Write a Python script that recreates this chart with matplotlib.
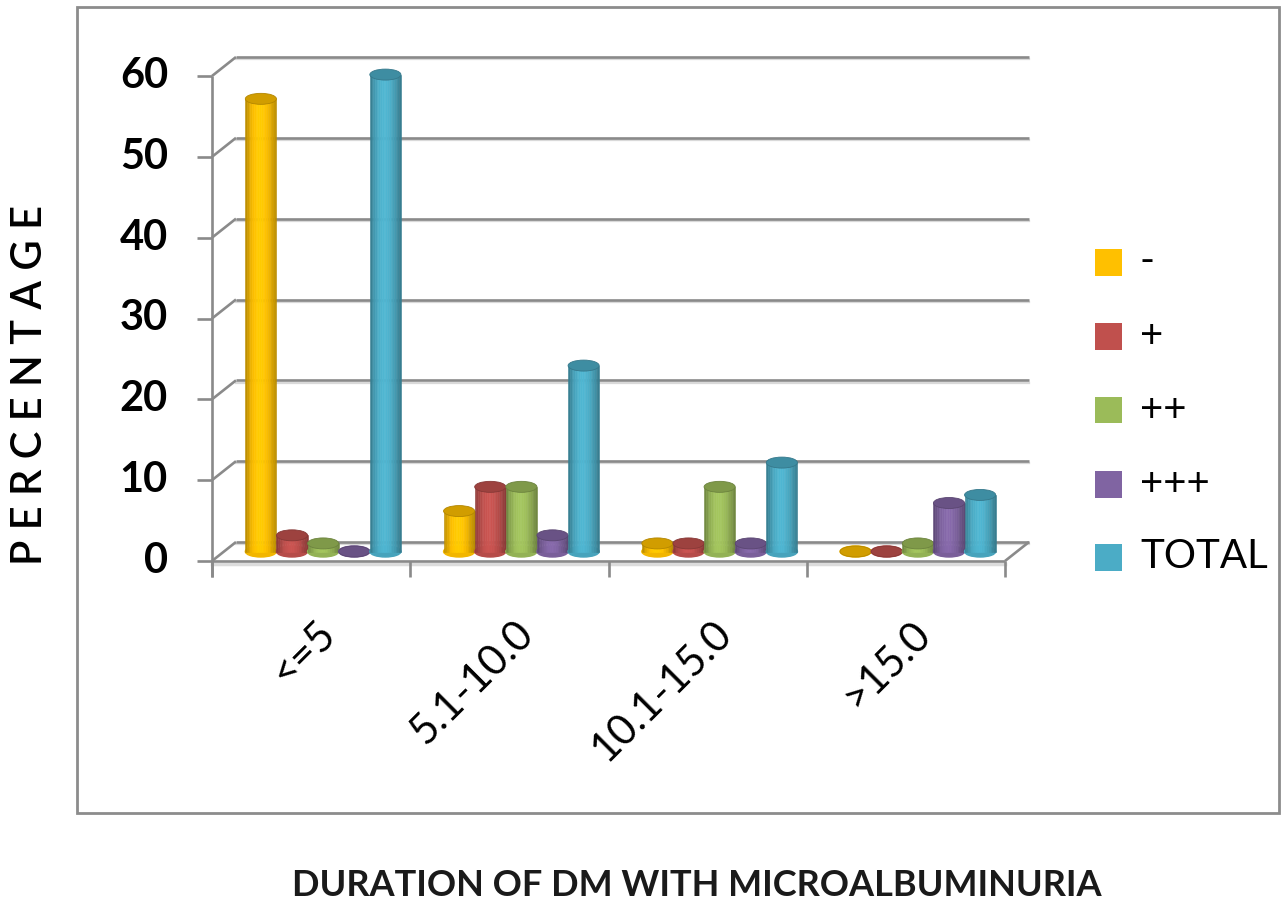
import numpy as np
import matplotlib
matplotlib.use("Agg")
import matplotlib.pyplot as plt
from matplotlib.patches import Ellipse, Rectangle

plt.rcParams["font.family"] = ["Lato", "DejaVu Sans"]

categories = ["<=5", "5.1-10.0", "10.1-15.0", ">15.0"]
series = ["-", "+", "++", "+++", "TOTAL"]
neg = [56, 5, 1, 0]
plus1 = [2, 8, 1, 0]
plus2 = [1, 8, 8, 1]
plus3 = [0, 2, 1, 6]
total = [59, 23, 11, 7]
values = [neg, plus1, plus2, plus3, total]
colors = ["#FFC000", "#C0504D", "#9BBB59", "#8064A2", "#4BACC6"]
yticks = [0, 10, 20, 30, 40, 50, 60]

W, H = 1281, 911
fig = plt.figure(figsize=(W / 100, H / 100), dpi=100)


def fx(px):
    return px / W


def fy(py):
    return (H - py) / H


# front plane of the 3-D box, in pixels
x0, x1, ytop, ybot = 212, 1005, 76, 561
ax = fig.add_axes([fx(x0), fy(ybot), fx(x1 - x0), (ybot - ytop) / H])
ax.set_xlim(0, len(categories))
ax.set_ylim(0, 60)
ax.axis("off")

ppx = (x1 - x0) / len(categories)   # pixels per category
ppy = (ybot - ytop) / 60.0          # pixels per percent
DX, DY = 24 / ppx, 19 / ppy         # depth of the box in data units

grid_c = "#8a8a8a"
grid_lw = 1.9
kw = dict(color=grid_c, lw=grid_lw, clip_on=False, solid_capstyle="butt")

# back wall gridlines, left wall diagonals and y ticks
for v in yticks:
    ax.plot([DX, len(categories) + DX], [v + DY - 2.2 / ppy] * 2,
            color="#d9d9d9", lw=1.6, clip_on=False, zorder=1)
    ax.plot([DX, len(categories) + DX], [v + DY, v + DY], zorder=2, **kw)
    ax.plot([0, DX], [v, v + DY], zorder=2, **kw)
    ax.plot([-15 / ppx, 0], [v, v], zorder=2, **kw)
    ax.text(-44 / ppx, v, str(v), ha="right", va="center", fontsize=30,
            fontweight="bold", color="black")

# front y axis and floor
ax.plot([0, 0], [-16 / ppy, 60], zorder=2, **kw)
ax.plot([0, len(categories)], [-2.5 / ppy] * 2, color="#dcdcdc", lw=2.5,
        clip_on=False, zorder=1)
ax.plot([0, len(categories)], [0, 0], zorder=2, **kw)
ax.plot([len(categories), len(categories) + DX], [0, DY], zorder=2, **kw)
for j in range(len(categories) + 1):
    ax.plot([j, j], [-16 / ppy, 0], zorder=2, **kw)

# cylinders
bw = 0.157
n_strips = 18
t = (np.arange(n_strips) + 0.5) / n_strips
shade = 0.70 + 0.36 * np.sin(np.pi * t ** 0.9)
ell_h = 11 / ppy
for i, (vals, col) in enumerate(zip(values, colors)):
    base = np.array(matplotlib.colors.to_rgb(col))
    for j, v in enumerate(vals):
        xc = j + 0.5 + DX / 2 + (i - 2) * bw
        y0 = DY / 2
        z = 5 + i * 0.1
        ax.add_patch(Ellipse((xc, y0), bw, ell_h, color=np.clip(base * 0.95, 0, 1),
                             zorder=z, clip_on=False))
        if v > 0:
            for k in range(n_strips):
                c = np.clip(base * shade[k], 0, 1)
                ax.bar(xc - bw / 2 + (k + 0.5) * bw / n_strips, v,
                       width=bw / n_strips, bottom=y0, color=c, edgecolor=c,
                       linewidth=0.4, zorder=z + 0.01, clip_on=False)
        ax.add_patch(Ellipse((xc, y0 + v), bw, ell_h, angle=0,
                             facecolor=np.clip(base * 0.82, 0, 1),
                             edgecolor=np.clip(base * 0.7, 0, 1), lw=0.6,
                             zorder=z + 0.02, clip_on=False))

# category labels
for j, lab in enumerate(categories):
    ax.text(j + 0.5 + DX / 2 + 6 / ppx, -66 / ppy, lab, rotation=45,
            rotation_mode="anchor", ha="right", va="center", fontsize=30,
            color="black")

# legend
rows = [262, 336, 410, 484, 557]
for lab, col, yy in zip(series, colors, rows):
    fig.add_artist(Rectangle((fx(1095), fy(yy + 13.5)), fx(27), 27 / H,
                             facecolor=col, edgecolor="none"))
    fig.text(fx(1140), fy(yy), lab, ha="left", va="center", fontsize=29,
             color="black")

# axis titles
fig.text(fx(30), fy(385), " ".join("PERCENTAGE"), rotation=90, ha="center",
         va="center", fontsize=30, fontweight="semibold", color="black")
fig.text(fx(697), fy(885), "DURATION OF DM WITH MICROALBUMINURIA", ha="center",
         va="center", fontsize=26, fontweight="bold", color="#1a1a1a")

# outer plot-area frame
fig.add_artist(Rectangle((fx(77), fy(813)), fx(1279 - 77), (813 - 7) / H,
                         facecolor="none", edgecolor="#8c8c8c", lw=2))

fig.savefig("out.png", dpi=100)
